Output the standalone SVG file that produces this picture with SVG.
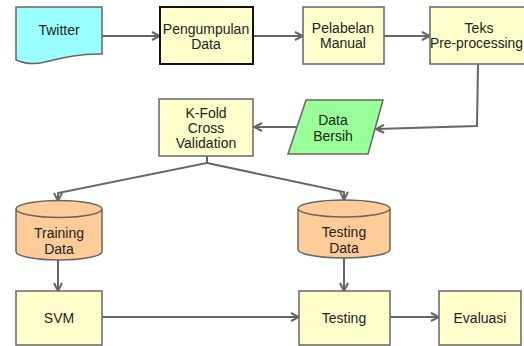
<svg xmlns="http://www.w3.org/2000/svg" width="524" height="346" viewBox="0 0 524 346">
  <style>
    .node { stroke: #666; stroke-width: 1.5; }
    .proc { fill: #ffffcc; }
    .src { fill: #99ffff; }
    .clean { fill: #99ff99; }
    .store { fill: #ffcc99; }
    .label { font-family: "Liberation Sans", Arial, sans-serif; font-size: 14px; fill: #222; text-anchor: middle; }
    .edge { fill: none; stroke: #666; stroke-width: 2; marker-end: url(#open); }
  </style>
  <defs>
    <marker id="open" viewBox="0 0 10 10" refX="9" refY="5" markerWidth="10" markerHeight="10" markerUnits="userSpaceOnUse" orient="auto">
      <path d="M1,1 L9,5 L1,9" fill="none" stroke="#666" stroke-width="2"/>
    </marker>
  </defs>
  <rect width="524" height="346" fill="#fff"/>

  <g id="edges">
    <path class="edge" d="M102,36 H160"/>
    <path class="edge" d="M253,36 H303"/>
    <path class="edge" d="M384,36 H430"/>
    <path class="edge" d="M478,64 L477,126 L376,129"/>
    <path class="edge" d="M297,127 H254"/>
    <path class="edge" d="M207,156 V163 L58,193 V201"/>
    <path class="edge" d="M207,163 L344,192 V200"/>
    <path class="edge" d="M58,260 V291"/>
    <path class="edge" d="M344,258 V291"/>
    <path class="edge" d="M102,317 H299"/>
    <path class="edge" d="M390,317 H439"/>
  </g>

  <g id="twitter">
    <path class="node src" d="M16,7 H102 V54 C80,53 60,58 45,62 C35,64.5 25,64 16,60 Z"/>
    <text class="label" x="59" y="35">Twitter</text>
  </g>

  <g id="pengumpulan">
    <rect class="proc" x="160" y="7" width="93" height="57" stroke="#111" stroke-width="2"/>
    <text class="label" x="206" y="34">Pengumpulan</text>
    <text class="label" x="206" y="49">Data</text>
  </g>

  <g id="pelabelan">
    <rect class="node proc" x="303" y="7" width="81" height="57"/>
    <text class="label" x="343" y="33">Pelabelan</text>
    <text class="label" x="343" y="48">Manual</text>
  </g>

  <g id="preprocessing">
    <rect class="node proc" x="430" y="7" width="98" height="57"/>
    <text class="label" x="479" y="33">Teks</text>
    <text class="label" x="476.5" y="48" textLength="93" lengthAdjust="spacingAndGlyphs">Pre-processing</text>
  </g>

  <g id="data-bersih">
    <path class="node clean" d="M306,100 H383 L368,154 H288 Z"/>
    <text class="label" x="333" y="125">Data</text>
    <text class="label" x="333" y="141">Bersih</text>
  </g>

  <g id="kfold">
    <rect class="node proc" x="159" y="99" width="94" height="57"/>
    <text class="label" x="206" y="118">K-Fold</text>
    <text class="label" x="206" y="133">Cross</text>
    <text class="label" x="206" y="148">Validation</text>
  </g>

  <g id="training-data">
    <path class="node store" d="M16,209 A43,8.5 0 0 1 102,209 V251.5 A43,8.5 0 0 1 16,251.5 Z"/>
    <path class="node" fill="none" d="M16,209 A43,8.5 0 0 0 102,209"/>
    <text class="label" x="59" y="238">Training</text>
    <text class="label" x="59" y="254">Data</text>
  </g>

  <g id="testing-data">
    <path class="node store" d="M298,208.5 A46,8.5 0 0 1 390,208.5 V249.5 A46,8.5 0 0 1 298,249.5 Z"/>
    <path class="node" fill="none" d="M298,208.5 A46,8.5 0 0 0 390,208.5"/>
    <text class="label" x="344" y="237">Testing</text>
    <text class="label" x="344" y="253">Data</text>
  </g>

  <g id="svm">
    <rect class="node proc" x="16" y="291" width="86" height="54"/>
    <text class="label" x="59" y="323">SVM</text>
  </g>

  <g id="testing">
    <rect class="node proc" x="299" y="291" width="91" height="54"/>
    <text class="label" x="344" y="323">Testing</text>
  </g>

  <g id="evaluasi">
    <rect class="node proc" x="439" y="291" width="82" height="54"/>
    <text class="label" x="480" y="323">Evaluasi</text>
  </g>
</svg>
